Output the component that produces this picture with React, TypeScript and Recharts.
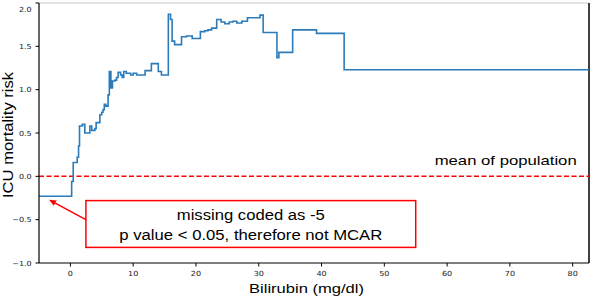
import React from 'react';
import { LineChart, Line, XAxis, YAxis, ReferenceLine, ReferenceArea } from 'recharts';

const BILIRUBIN = [
  -5, 0.2, 0.45, 1.08, 1.3, 1.45, 1.9, 2.3, 3.1, 3.4, 3.9, 4.1, 4.7, 5.0, 5.2, 5.4, 5.65, 6.0, 6.2, 6.45,
  6.7, 7.1, 7.35, 7.6, 8.0, 8.25, 8.5, 8.9, 9.6, 10.0, 10.55, 11.9, 12.9, 14.0, 14.5, 15.6, 15.95, 16.2,
  16.6, 17.7, 18.5, 19.4, 20.7, 21.4, 21.9, 22.5, 23.3, 24.0, 24.6, 25.3, 25.9, 26.5, 27.3, 28.2, 30.2,
  30.7, 32.9, 33.2, 35.4, 39.2, 43.6, 82.6,
];
const RISK = [
  -0.23, -0.06, 0.16, 0.22, 0.35, 0.58, 0.6, 0.5, 0.58, 0.53, 0.55, 0.62, 0.71, 0.74, 0.77, 0.83, 0.81, 0.94, 1.21, 1.02,
  1.1, 1.11, 1.14, 1.2, 1.17, 1.14, 1.21, 1.19, 1.17, 1.19, 1.17, 1.22, 1.3, 1.21, 1.17, 1.87, 1.81, 1.56,
  1.52, 1.61, 1.62, 1.59, 1.67, 1.68, 1.69, 1.71, 1.81, 1.78, 1.76, 1.78, 1.79, 1.77, 1.79, 1.83, 1.86,
  1.66, 1.37, 1.43, 1.69, 1.65, 1.23, 1.23,
];
const X_TICKS = [0, 10, 20, 30, 40, 50, 60, 70, 80];
const Y_TICKS = [-1, -0.5, 0, 0.5, 1, 1.5, 2];
const X_DOMAIN = [-5, 82.6];
const Y_DOMAIN = [-1, 2];
const MEAN_LEVEL = 0;
const BOX_X = [2.47, 55.0];
const BOX_Y = [-0.28, -0.82];
const ARROW_FROM = { x: 2.47, y: -0.5 };
const ARROW_TO = { x: -3.4, y: -0.27 };

const data = BILIRUBIN.map((x, i) => ({ x, y: RISK[i] }));

const SANS = '"Liberation Sans", Arial, sans-serif';
const TICKFONT = '"DejaVu Sans", sans-serif';

function SText(props: any) {
  const { x, y, anchor = 'start', size, sx = 1, family = SANS, fill = '#000', children } = props;
  return (
    <text transform={`translate(${x},${y}) scale(${sx},1)`} textAnchor={anchor} fontSize={size} fontFamily={family} fill={fill}>
      {children}
    </text>
  );
}

const fmtY = (v: number) => (v < 0 ? '\u2212' + Math.abs(v).toFixed(1) : v.toFixed(1));

const XTick = (p: any) => (
  <SText x={p.x} y={p.y + 7} anchor="middle" size={7} sx={1.15} family={TICKFONT} fill="#222">
    {String(p.payload.value)}
  </SText>
);
const YTick = (p: any) => (
  <SText x={p.x - 1.8} y={p.y + 2.5} anchor="end" size={7} sx={1.15} family={TICKFONT} fill="#222">
    {fmtY(p.payload.value)}
  </SText>
);

const MeanLine = (p: any) => (
  <g>
    <line x1={p.x1} y1={p.y1} x2={p.x2} y2={p.y2} stroke="#ff0000" strokeWidth={1.5} strokeDasharray="5 2.5" />
    <text x={p.x2 - 12.3} y={p.y1 - 11} textAnchor="end" fontSize={13.5} fontFamily={SANS} fill="#000"
      textLength={142} lengthAdjust="spacingAndGlyphs">mean of population</text>
  </g>
);

const NoteBox = (p: any) => {
  const cx = p.x + p.width / 2;
  return (
    <g>
      <rect x={p.x} y={p.y} width={p.width} height={p.height} fill="#fff" stroke="#ff0000" strokeWidth={1.5} />
      <text x={cx} y={p.y + 19} textAnchor="middle" fontSize={14} fontFamily={SANS} fill="#000"
        textLength={148} lengthAdjust="spacingAndGlyphs">missing coded as -5</text>
      <text x={cx} y={p.y + 39} textAnchor="middle" fontSize={14} fontFamily={SANS} fill="#000"
        textLength={263} lengthAdjust="spacingAndGlyphs">p value &lt; 0.05, therefore not MCAR</text>
    </g>
  );
};

const Arrow = (p: any) => {
  const { x1, y1, x2, y2 } = p;
  const dx = x2 - x1, dy = y2 - y1;
  const len = Math.sqrt(dx * dx + dy * dy) || 1;
  const ux = dx / len, uy = dy / len;
  const hl = 7, hw = 3;
  const bx = x2 - ux * hl, by = y2 - uy * hl;
  const pts = `${x2},${y2} ${bx - uy * hw},${by + ux * hw} ${bx + uy * hw},${by - ux * hw}`;
  return (
    <g>
      <line x1={x1} y1={y1} x2={bx} y2={by} stroke="#ff0000" strokeWidth={1.5} />
      <polygon points={pts} fill="#ff0000" />
    </g>
  );
};

export default function App() {
  return (
    <div style={{ position: 'absolute', left: 0, top: 0, background: '#fff' }}>
      <LineChart width={590} height={298} data={data} margin={{ top: 3, right: 1, left: 0, bottom: 0 }}>
        <XAxis
          type="number"
          dataKey="x"
          domain={X_DOMAIN}
          ticks={X_TICKS}
          allowDataOverflow
          height={35}
          tickSize={3.5}
          tick={<XTick />}
          stroke="#000"
          tickLine={{ stroke: '#000' }}
          axisLine={{ stroke: '#000', strokeWidth: 1.2 }}
          label={{
            content: () => (
              <text x={306.5} y={293} textAnchor="middle" fontSize={13} fontFamily={SANS} fill="#000"
                textLength={115} lengthAdjust="spacingAndGlyphs">Bilirubin (mg/dl)</text>
            ),
          }}
        />
        <YAxis
          type="number"
          domain={Y_DOMAIN}
          ticks={Y_TICKS}
          allowDataOverflow
          width={39}
          tickSize={3.5}
          tick={<YTick />}
          stroke="#000"
          tickLine={{ stroke: '#000' }}
          axisLine={{ stroke: '#000', strokeWidth: 1.2 }}
          label={{
            content: () => (
              <text transform="translate(12.7,135) rotate(-90)" textAnchor="middle" fontSize={14}
                fontFamily={SANS} fill="#000" textLength={126} lengthAdjust="spacingAndGlyphs">ICU mortality risk</text>
            ),
          }}
        />
        <ReferenceLine y={Y_DOMAIN[1]} stroke="#c8c8c8" strokeWidth={1.2} />
        <ReferenceLine x={X_DOMAIN[1]} stroke="#000" strokeWidth={1.5} />
        <ReferenceLine y={MEAN_LEVEL} shape={<MeanLine />} />
        <Line
          type="stepAfter"
          dataKey="y"
          stroke="#2b7bba"
          strokeWidth={1.6}
          dot={false}
          isAnimationActive={false}
        />
        <ReferenceArea x1={BOX_X[0]} x2={BOX_X[1]} y1={BOX_Y[0]} y2={BOX_Y[1]} shape={<NoteBox />} />
        <ReferenceLine segment={[ARROW_FROM, ARROW_TO]} shape={<Arrow />} />
      </LineChart>
    </div>
  );
}
